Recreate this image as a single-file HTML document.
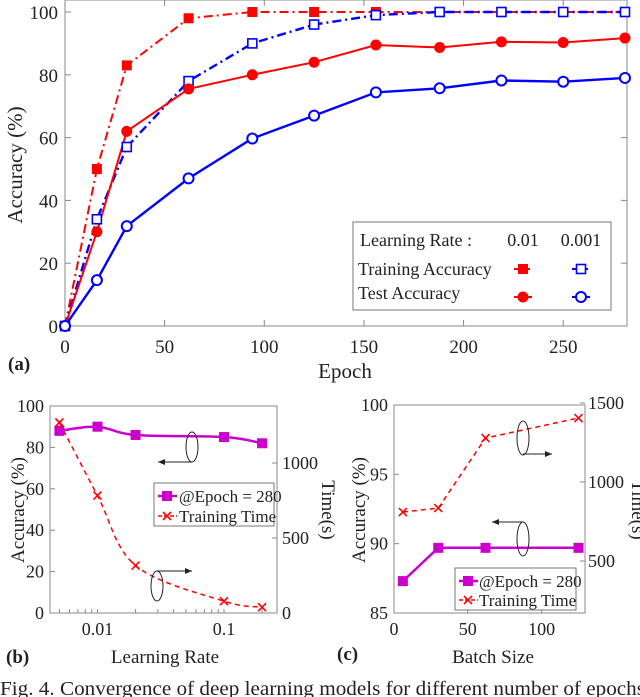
<!DOCTYPE html>
<html><head><meta charset="utf-8"><style>
html,body{margin:0;padding:0;background:#fff;overflow:hidden}
svg{display:block;font-family:"Liberation Serif",serif}
</style></head><body>
<svg id="fig" width="640" height="697" viewBox="0 0 640 697" xmlns="http://www.w3.org/2000/svg"></svg>
<script>
// ---- Panel (a) data ----
const epochs = [0,16,31,62,94,125,156,188,219,250,281];
const trainAcc001 = [0,50,83,98,100,100,100,100,100,100,100];
const trainAcc0001 = [0,34,57,78,90,96,99,100,100,100,100];
const testAcc001 = [0,30,62,75.5,80,84,89.5,88.7,90.5,90.3,91.7];
const testAcc0001 = [0,14.6,31.8,47,59.7,67,74.4,75.7,78.2,77.8,79];
const aXTicks = [0,50,100,150,200,250];
const aYTicks = [0,20,40,60,80,100];
// ---- Panel (b) data ----
const learningRates = [0.005,0.01,0.02,0.1,0.2];
const lrAccuracy = [88,90,86,85,82];
const lrTime = [1270,783,316,79,39];
const bXTicks = [0.01,0.1];
const bYTicks = [0,20,40,60,80,100];
const bY2Ticks = [0,500,1000];
// ---- Panel (c) data ----
const batchSizes = [6,30,62,125];
const bsAccuracy = [87.3,89.7,89.7,89.7];
const bsTime = [810,835,1278,1405];
const cXTicks = [0,50,100];
const cYTicks = [85,90,95,100];
const cY2Ticks = [500,1000,1500];

const NS="http://www.w3.org/2000/svg";
const svg=document.getElementById('fig');
function el(tag,attrs,parent,name,inter){
  const e=document.createElementNS(NS,tag);
  for(const k in attrs)e.setAttribute(k,attrs[k]);
  
  
  (parent||svg).appendChild(e);return e;
}
function txt(x,y,s,size,name,opts){
  opts=opts||{};
  const t=el('text',{x:x,y:y,'font-size':size,'text-anchor':opts.anchor||'middle',fill:'#222','font-weight':opts.bold?'bold':'normal'},opts.parent,name);
  if(opts.rot)t.setAttribute('transform','rotate('+opts.rot+' '+x+' '+y+')');
  if(opts.len){t.setAttribute('textLength',opts.len);t.setAttribute('lengthAdjust','spacingAndGlyphs');}
  t.textContent=s;return t;
}
function lin(d0,d1,r0,r1){return v=>r0+(v-d0)/(d1-d0)*(r1-r0);}
function poly(xs,ys,fx,fy,stroke,dash,name,w){
  const pts=xs.map((x,i)=>fx(x).toFixed(1)+','+fy(ys[i]).toFixed(1)).join(' ');
  el('polyline',{points:pts,fill:'none',stroke:stroke,'stroke-width':w||2,'stroke-dasharray':dash||'none'},null,name);
}
function smooth(xs,ys,fx,fy,stroke,dash,name,w){
  const P=xs.map((x,i)=>[fx(x),fy(ys[i])]);
  let d='M'+P[0][0]+','+P[0][1];
  for(let i=0;i<P.length-1;i++){
    const p0=P[Math.max(i-1,0)],p1=P[i],p2=P[i+1],p3=P[Math.min(i+2,P.length-1)];
    const c1=[p1[0]+(p2[0]-p0[0])/6,p1[1]+(p2[1]-p0[1])/6];
    const c2=[p2[0]-(p3[0]-p1[0])/6,p2[1]-(p3[1]-p1[1])/6];
    d+=' C'+c1.join(',')+' '+c2.join(',')+' '+p2.join(',');
  }
  el('path',{d:d,fill:'none',stroke:stroke,'stroke-width':w||2,'stroke-dasharray':dash||'none'},null,name);
}
function marker(type,x,y,color,name){
  if(type==='sq')el('rect',{x:x-5,y:y-5,width:10,height:10,fill:color},null,name);
  else if(type==='osq')el('rect',{x:x-4.5,y:y-4.5,width:9,height:9,fill:'#fff',stroke:color,'stroke-width':1.6},null,name);
  else if(type==='ci')el('circle',{cx:x,cy:y,r:5.5,fill:color},null,name);
  else if(type==='oci')el('circle',{cx:x,cy:y,r:5,fill:'#fff',stroke:color,'stroke-width':2},null,name);
  else if(type==='x')el('path',{d:`M${x-4},${y-4}L${x+4},${y+4}M${x-4},${y+4}L${x+4},${y-4}`,stroke:color,'stroke-width':1.6},null,name);
}
function frame(x0,y0,x1,y1,name){
  el('rect',{x:x0,y:y0,width:x1-x0,height:y1-y0,fill:'none',stroke:'#888','stroke-width':1},null,name);
}
function arrow(x1,y1,x2,y2,name){
  el('line',{x1:x1,y1:y1,x2:x2,y2:y2,stroke:'#222','stroke-width':1},null,name);
  const dir=x2>x1?1:-1;
  el('path',{d:`M${x2},${y2}L${x2-dir*7},${y2-3}L${x2-dir*7},${y2+3}Z`,fill:'#222'},null,name+'-head');
}

// ===== Panel (a) =====
const ax=lin(0,281,65,625), ay=lin(0,100,326,12);
frame(65,0,627,326,'panel-a-frame');
aXTicks.forEach(t=>{el('line',{x1:ax(t),y1:326,x2:ax(t),y2:320,stroke:'#888'},null,'a-x-tick');el('line',{x1:ax(t),y1:0,x2:ax(t),y2:6,stroke:'#888'},null,'a-x-tick-top');txt(ax(t),353,t,19,'a-x-tick-label');});
aYTicks.forEach(t=>{el('line',{x1:65,y1:ay(t),x2:71,y2:ay(t),stroke:'#888'},null,'a-y-tick');el('line',{x1:627,y1:ay(t),x2:621,y2:ay(t),stroke:'#888'},null,'a-y-tick-right');txt(58,ay(t)+7,t,19,'a-y-tick-label',{anchor:'end'});});
txt(345,378,'Epoch',21,'a-x-axis-title');
txt(22,165,'Accuracy (%)',21,'a-y-axis-title',{rot:-90});
txt(8,370,'(a)',19,'panel-a-label',{anchor:'start',bold:true});
poly(epochs,trainAcc001,ax,ay,'#f00','9,4,2,4','train-acc-0.01-line');
poly(epochs,trainAcc0001,ax,ay,'#00f','9,4,2,4','train-acc-0.001-line',2.4);
poly(epochs,testAcc001,ax,ay,'#f00',null,'test-acc-0.01-line');
poly(epochs,testAcc0001,ax,ay,'#00f',null,'test-acc-0.001-line',2.4);
epochs.forEach((e,i)=>{
  marker('sq',ax(e),ay(trainAcc001[i]),'#f00','train-acc-0.01-point');
  marker('osq',ax(e),ay(trainAcc0001[i]),'#00f','train-acc-0.001-point');
  marker('ci',ax(e),ay(testAcc001[i]),'#f00','test-acc-0.01-point');
  marker('oci',ax(e),ay(testAcc0001[i]),'#00f','test-acc-0.001-point');
});
const lg=el('g',{},null,'legend-a');
el('rect',{x:353,y:222,width:258,height:88,fill:'#fff',stroke:'#777'},lg,'legend-a-box');
txt(360,246,'Learning Rate :',18,'legend-a-header',{anchor:'start',parent:lg});
txt(523,246,'0.01',18,'legend-a-lr-0.01',{parent:lg});
txt(581,246,'0.001',18,'legend-a-lr-0.001',{parent:lg});
txt(358,275,'Training Accuracy',18,'legend-a-training-label',{anchor:'start',parent:lg});
txt(358,299,'Test Accuracy',18,'legend-a-test-label',{anchor:'start',parent:lg});
el('line',{x1:514,y1:269,x2:532,y2:269,stroke:'#f00','stroke-width':2,'stroke-dasharray':'4,2'},lg,'legend-a-train-0.01-line');
el('line',{x1:572,y1:269,x2:590,y2:269,stroke:'#00f','stroke-width':2,'stroke-dasharray':'4,2'},lg,'legend-a-train-0.001-line');
el('line',{x1:514,y1:297,x2:532,y2:297,stroke:'#f00','stroke-width':2},lg,'legend-a-test-0.01-line');
el('line',{x1:572,y1:297,x2:590,y2:297,stroke:'#00f','stroke-width':2},lg,'legend-a-test-0.001-line');
marker('sq',523,269,'#f00','legend-a-train-0.01-marker');
marker('osq',581,269,'#00f','legend-a-train-0.001-marker');
marker('ci',523,297,'#f00','legend-a-test-0.01-marker');
marker('oci',581,297,'#00f','legend-a-test-0.001-marker');

// ===== Panel (b) =====
const bx=v=>97.5+Math.log10(v/0.01)*126.5, by=lin(0,100,613,406), by2=lin(0,1000,613,463);
frame(50,406,277,613,'panel-b-frame');
[0.005,0.006,0.007,0.008,0.009,0.01,0.02,0.03,0.04,0.05,0.06,0.07,0.08,0.09,0.1,0.2].forEach(t=>{el('line',{x1:bx(t),y1:613,x2:bx(t),y2:609,stroke:'#888'},null,'b-x-minor-tick');});
bXTicks.forEach(t=>txt(bx(t),635,t,18,'b-x-tick-label'));
bYTicks.forEach(t=>{el('line',{x1:50,y1:by(t),x2:55,y2:by(t),stroke:'#888'},null,'b-y-tick');txt(44,by(t)+6,t,18,'b-y-tick-label',{anchor:'end'});});
bY2Ticks.forEach(t=>{el('line',{x1:277,y1:by2(t),x2:272,y2:by2(t),stroke:'#888'},null,'b-y2-tick');txt(282,by2(t)+6,t,18,'b-y2-tick-label',{anchor:'start'});});
txt(165,663,'Learning Rate',19,'b-x-axis-title');
txt(24,510,'Accuracy (%)',19,'b-y-axis-title',{rot:-90});
txt(322,510,'Time(s)',19,'b-y2-axis-title',{rot:90});
txt(6,663,'(b)',19,'panel-b-label',{anchor:'start',bold:true});
smooth(learningRates,lrAccuracy,bx,by,'#c0c','','lr-accuracy-line',2.5);
smooth(learningRates,lrTime,bx,by2,'#f00','5,4','lr-time-line',1.5);
learningRates.forEach((v,i)=>{marker('sq',bx(v),by(lrAccuracy[i]),'#c0c','lr-accuracy-point');marker('x',bx(v),by2(lrTime[i]),'#f00','lr-time-point');});
el('ellipse',{cx:192,cy:447,rx:6,ry:15,fill:'none',stroke:'#222'},null,'b-acc-ellipse');
arrow(192,462,158,462,'b-acc-arrow');
el('ellipse',{cx:157,cy:586,rx:6,ry:15,fill:'none',stroke:'#222'},null,'b-time-ellipse');
arrow(157,571,192,571,'b-time-arrow');
const lgb=el('g',{},null,'legend-b');
el('rect',{x:154,y:483,width:120,height:43,fill:'#fff',stroke:'#777'},lgb,'legend-b-box');
el('line',{x1:158,y1:496,x2:177,y2:496,stroke:'#c0c','stroke-width':2.5},lgb,'legend-b-acc-line');
el('rect',{x:162,y:491,width:10,height:10,fill:'#c0c'},lgb,'legend-b-acc-marker');
txt(179,502,'@Epoch = 280',17,'legend-b-acc-label',{anchor:'start',parent:lgb});
el('line',{x1:158,y1:516,x2:177,y2:516,stroke:'#f00','stroke-width':1.5,'stroke-dasharray':'4,2'},lgb,'legend-b-time-line');
el('path',{d:'M163,512L171,520M163,520L171,512',stroke:'#f00','stroke-width':1.6},lgb,'legend-b-time-marker');
txt(179,522,'Training Time',17,'legend-b-time-label',{anchor:'start',parent:lgb});

// ===== Panel (c) =====
const cx=lin(0,100,394,541.6), cy=lin(85,100,613,405), cy2=lin(500,1500,561,403);
frame(394,405,585,613,'panel-c-frame');
cXTicks.forEach(t=>{el('line',{x1:cx(t),y1:613,x2:cx(t),y2:609,stroke:'#888'},null,'c-x-tick');txt(cx(t),635,t,18,'c-x-tick-label');});
cYTicks.forEach(t=>{el('line',{x1:394,y1:cy(t),x2:399,y2:cy(t),stroke:'#888'},null,'c-y-tick');txt(388,cy(t)+6,t,18,'c-y-tick-label',{anchor:'end'});});
cY2Ticks.forEach(t=>{el('line',{x1:585,y1:cy2(t),x2:580,y2:cy2(t),stroke:'#888'},null,'c-y2-tick');txt(588,cy2(t)+6,t,18,'c-y2-tick-label',{anchor:'start'});});
txt(493,663,'Batch Size',19,'c-x-axis-title');
txt(365,510,'Accuracy (%)',19,'c-y-axis-title',{rot:-90});
txt(632,510,'Time(s)',19,'c-y2-axis-title',{rot:90});
txt(337,660,'(c)',19,'panel-c-label',{anchor:'start',bold:true});
poly(batchSizes,bsAccuracy,cx,cy,'#c0c',null,'bs-accuracy-line',2.5);
poly(batchSizes,bsTime,cx,cy2,'#f00','5,4','bs-time-line',1.5);
batchSizes.forEach((v,i)=>{marker('sq',cx(v),cy(bsAccuracy[i]),'#c0c','bs-accuracy-point');marker('x',cx(v),cy2(bsTime[i]),'#f00','bs-time-point');});
el('ellipse',{cx:523,cy:438,rx:6,ry:17,fill:'none',stroke:'#222'},null,'c-time-ellipse');
arrow(523,454,552,454,'c-time-arrow');
el('ellipse',{cx:523,cy:539,rx:6,ry:17,fill:'none',stroke:'#222'},null,'c-acc-ellipse');
arrow(523,522,492,522,'c-acc-arrow');
const lgc=el('g',{},null,'legend-c');
el('rect',{x:455,y:568,width:121,height:42,fill:'#fff',stroke:'#777'},lgc,'legend-c-box');
el('line',{x1:459,y1:581,x2:478,y2:581,stroke:'#c0c','stroke-width':2.5},lgc,'legend-c-acc-line');
el('rect',{x:463,y:576,width:10,height:10,fill:'#c0c'},lgc,'legend-c-acc-marker');
txt(479,587,'@Epoch = 280',17,'legend-c-acc-label',{anchor:'start',parent:lgc});
el('line',{x1:459,y1:600,x2:478,y2:600,stroke:'#f00','stroke-width':1.5,'stroke-dasharray':'4,2'},lgc,'legend-c-time-line');
el('path',{d:'M464,596L472,604M464,604L472,596',stroke:'#f00','stroke-width':1.6},lgc,'legend-c-time-marker');
txt(479,606,'Training Time',17,'legend-c-time-label',{anchor:'start',parent:lgc});

// caption
txt(0,695,'Fig. 4.  Convergence of deep learning models for different number of epochs',20,'figure-caption',{anchor:'start',len:645});
</script>
</body></html>
